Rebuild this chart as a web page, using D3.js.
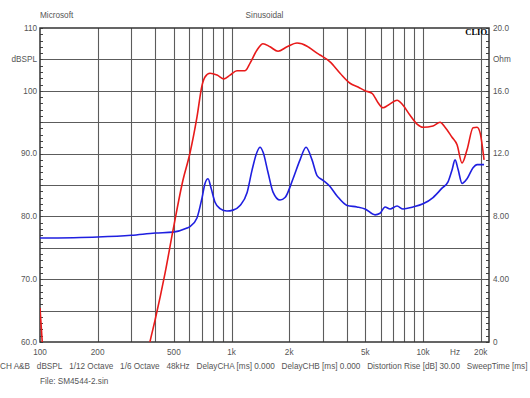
<!DOCTYPE html>
<html>
<head>
<meta charset="utf-8">
<script src="https://cdn.jsdelivr.net/npm/d3@7"></script>
<style>
  html, body { margin: 0; padding: 0; background: #fff; }
  svg { display: block; font-family: "Liberation Sans", Arial, sans-serif; }
</style>
</head>
<body>
<svg id="chart" width="530" height="398"></svg>
<script>
// frequency response, dBSPL (left axis)
const splFreq = [100, 103, 107, 340, 375, 399, 450, 495, 558, 607, 660, 702, 727, 772, 840, 914, 982, 1068, 1177, 1250, 1359, 1460, 1589, 1749, 1949, 2198, 2480, 2570, 2796, 2899, 3152, 3268, 3687, 4157, 4578, 4980, 5416, 5821, 6183, 6567, 7316, 7863, 8553, 9305, 10000, 11276, 12269, 13026, 14171, 15054, 15985, 16972, 18244, 19144, 19857, 20822];
const splDb   = [65.4, 59.5, 54, 53, 60, 63.5, 71, 77.8, 85.8, 90.1, 95.8, 100.9, 102.2, 102.8, 102.5, 101.9, 102.5, 103.2, 103.2, 104.4, 106.5, 107.5, 107.0, 106.3, 107.0, 107.6, 107.1, 106.8, 106.0, 105.7, 105.0, 104.6, 102.8, 101.2, 100.6, 100.0, 99.6, 98.1, 97.3, 97.7, 98.5, 97.7, 96.1, 94.7, 94.2, 94.4, 95.0, 94.2, 92.6, 91.4, 88.5, 90.6, 94.1, 94.2, 93.3, 89.0];

// impedance, Ohm (right axis)
const impFreq = [100, 200, 300, 400, 495, 586, 607, 660, 702, 727, 754, 782, 820, 871, 947, 1018, 1108, 1205, 1280, 1359, 1409, 1460, 1551, 1647, 1792, 1903, 2095, 2279, 2449, 2633, 2796, 3005, 3268, 3556, 4010, 4523, 4980, 5616, 5964, 6334, 6727, 7316, 7863, 8867, 10000, 11276, 12566, 13503, 14171, 14697, 15233, 15985, 16972, 18244, 19144, 20822];
const impOhm  = [6.62, 6.69, 6.8, 6.94, 7.0, 7.26, 7.35, 7.9, 9.2, 10.1, 10.4, 9.8, 8.9, 8.5, 8.34, 8.4, 8.7, 9.5, 10.95, 12.1, 12.4, 12.1, 10.8, 9.55, 9.04, 9.2, 10.4, 11.6, 12.4, 11.6, 10.6, 10.3, 9.9, 9.3, 8.7, 8.6, 8.47, 8.1, 8.2, 8.6, 8.47, 8.66, 8.47, 8.6, 8.8, 9.2, 9.8, 10.2, 10.96, 11.6, 11.0, 10.1, 10.4, 11.1, 11.3, 11.3];

const freqGrid = [200, 300, 400, 500, 600, 700, 800, 900, 1000, 2000, 3000, 4000, 5000, 6000, 7000, 8000, 9000, 10000, 20000];
const freqTicks = [100, 200, 500, 1000, 2000, 5000, 10000, 20000];
const freqLabels = ["100", "200", "500", "1k", "2k", "5k", "10k", "20k"];
const dbGrid = [65, 70, 75, 80, 85, 90, 95, 100, 105];
const dbTicks = [110, 105, 100, 90, 80, 70, 60];
const dbLabels = ["110", "dBSPL", "100", "90.0", "80.0", "70.0", "60.0"];
const ohmTicks = [20, 18, 16, 12, 8, 4, 0];
const ohmLabels = ["20.0", "Ohm", "16.0", "12.0", "8.00", "4.00", "0"];
const footerItems = ["CH A&B", "dBSPL", "1/12 Octave", "1/6 Octave", "48kHz", "DelayCHA [ms] 0.000", "DelayCHB [ms] 0.000", "Distortion Rise [dB] 30.00", "SweepTime [ms]"];

const W = 530, H = 398;
const margin = { top: 28, right: 41, bottom: 56, left: 40 };
const TEXT = '#555';
const GRID = '#5c5c5c';

const svg = d3.select('#chart');
const x = d3.scaleLog().domain([100, 22100]).range([margin.left, W - margin.right]);
const y = d3.scaleLinear().domain([60, 110]).range([H - margin.bottom, margin.top]);
const yOhm = d3.scaleLinear().domain([0, 20]).range([H - margin.bottom, margin.top]);
const x0 = margin.left, x1 = W - margin.right, y0 = margin.top, y1 = H - margin.bottom;

svg.append('defs').append('clipPath').attr('id', 'plot-clip')
  .append('rect').attr('x', x0).attr('y', y0).attr('width', x1 - x0).attr('height', y1 - y0);

// grid
svg.append('g').selectAll('line').data(freqGrid).join('line')
  .attr('x1', d => Math.round(x(d)) + 0.5).attr('x2', d => Math.round(x(d)) + 0.5)
  .attr('y1', y0).attr('y2', y1)
  .attr('stroke', GRID).attr('stroke-width', 1.1);
svg.append('g').selectAll('line').data(dbGrid).join('line')
  .attr('y1', d => Math.round(y(d)) + 0.5).attr('y2', d => Math.round(y(d)) + 0.5)
  .attr('x1', x0).attr('x2', x1)
  .attr('stroke', GRID).attr('stroke-width', 1.1);

// minor ticks, inside both vertical axes
const minor = d3.range(60, 111, 1);
svg.append('g').selectAll('line').data(minor).join('line')
  .attr('x1', x0).attr('x2', x0 + 3)
  .attr('y1', d => Math.round(y(d)) + 0.5).attr('y2', d => Math.round(y(d)) + 0.5)
  .attr('stroke', '#444');
svg.append('g').selectAll('line').data(minor).join('line')
  .attr('x1', x1 - 3).attr('x2', x1)
  .attr('y1', d => Math.round(y(d)) + 0.5).attr('y2', d => Math.round(y(d)) + 0.5)
  .attr('stroke', '#444');

// frame
svg.append('rect')
  .attr('x', x0).attr('y', y0).attr('width', x1 - x0).attr('height', y1 - y0)
  .attr('fill', 'none').attr('stroke', '#333').attr('stroke-width', 1.5);

// curves
const plot = svg.append('g').attr('clip-path', 'url(#plot-clip)');
const splLine = d3.line().x(d => x(d[0])).y(d => y(d[1])).curve(d3.curveMonotoneX);
const impLine = d3.line().x(d => x(d[0])).y(d => yOhm(d[1])).curve(d3.curveMonotoneX);

plot.append('path')
  .datum(impFreq.map((f, i) => [f, impOhm[i]]))
  .attr('d', impLine)
  .attr('fill', 'none').attr('stroke', '#1f1fe0').attr('stroke-width', 1.6);
plot.append('path')
  .datum(splFreq.map((f, i) => [f, splDb[i]]))
  .attr('d', splLine)
  .attr('fill', 'none').attr('stroke', '#e81a1a').attr('stroke-width', 1.6);

// texts
const fs = '8.2px';
svg.append('text').attr('x', x0).attr('y', 18).attr('font-size', fs).attr('fill', TEXT).text('Microsoft');
svg.append('text').attr('x', (x0 + x1) / 2).attr('y', 18).attr('text-anchor', 'middle')
  .attr('font-size', fs).attr('fill', TEXT).text('Sinusoidal');
svg.append('text').attr('x', x1 - 2).attr('y', 35).attr('text-anchor', 'end')
  .attr('font-family', '"Liberation Serif", "DejaVu Serif", serif').attr('font-weight', 'bold')
  .attr('font-size', '8.5px').attr('fill', '#000').text('CLIO');

svg.append('g').selectAll('text').data(dbTicks).join('text')
  .attr('x', x0 - 3).attr('y', d => y(d)).attr('dy', '0.35em')
  .attr('text-anchor', 'end').attr('font-size', fs).attr('fill', TEXT)
  .text((d, i) => dbLabels[i]);
svg.append('g').selectAll('text').data(ohmTicks).join('text')
  .attr('x', x1 + 4).attr('y', d => yOhm(d)).attr('dy', '0.35em')
  .attr('font-size', fs).attr('fill', TEXT)
  .text((d, i) => ohmLabels[i]);
svg.append('g').selectAll('text').data(freqTicks).join('text')
  .attr('x', d => x(d)).attr('y', y1 + 13)
  .attr('text-anchor', 'middle').attr('font-size', fs).attr('fill', TEXT)
  .text((d, i) => freqLabels[i]);
svg.append('text').attr('x', x(14700)).attr('y', y1 + 13).attr('text-anchor', 'middle')
  .attr('font-size', fs).attr('fill', TEXT).text('Hz');

// footer, laid out left to right
const footer = svg.append('g');
let fx = 0;
footerItems.forEach(t => {
  const el = footer.append('text').attr('x', fx).attr('y', 369)
    .attr('font-size', fs).attr('fill', TEXT).text(t);
  fx += el.node().getComputedTextLength() + 6.8;
});
svg.append('text').attr('x', x0).attr('y', 384).attr('font-size', fs).attr('fill', TEXT)
  .text('File: SM4544-2.sin');
</script>
</body>
</html>
